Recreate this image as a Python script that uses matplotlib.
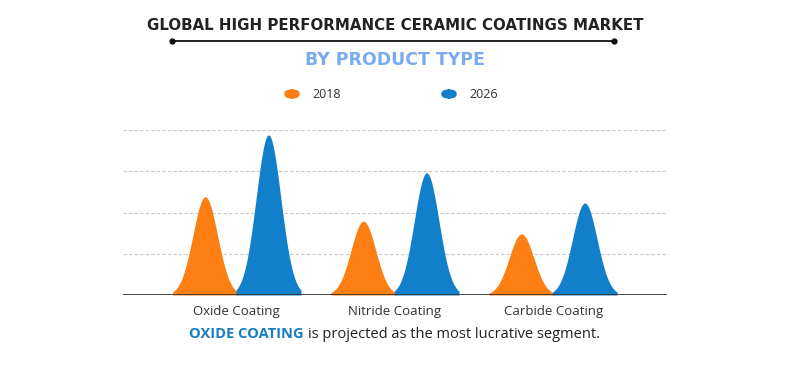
import numpy as np
import matplotlib
matplotlib.use("Agg")
import matplotlib.pyplot as plt
from matplotlib.patches import FancyBboxPatch
from matplotlib.lines import Line2D

plt.rcParams['font.family'] = ['Open Sans', 'DejaVu Sans']

# data
categories = ["Oxide Coating", "Nitride Coating", "Carbide Coating"]
years = ["2018", "2026"]
values_2018 = [2.38, 1.79, 1.48]
values_2026 = [3.88, 2.96, 2.23]

orange = "#FD7F14"
blue = "#127FCB"


def peak(ax, x0, h, color):
    """Draw a bell shaped peak centred at x0 with height h."""
    xs = np.linspace(-0.205, 0.205, 200)
    ys = h * np.exp(-0.5 * (xs / 0.078) ** 2)
    ax.fill_between(x0 + xs, 0, ys, color=color, linewidth=0, zorder=3)


fig = plt.figure(figsize=(7.9, 3.67), dpi=100)
ax = fig.add_axes([123 / 790, 1 - 295 / 367, 544 / 790, 165 / 367])

pos = np.arange(len(categories))
for i, x in enumerate(pos):
    peak(ax, x - 0.2, values_2018[i], orange)
    peak(ax, x + 0.2, values_2026[i], blue)

ax.set_xlim(-0.72, 2.72)
ax.set_ylim(0, 4)
for g in [1, 2, 3, 4]:
    ax.axhline(g, color="#c8c8c8", linestyle=(0, (3, 2)), linewidth=0.8, zorder=1)
ax.axhline(0, color="#333333", linewidth=2, zorder=4)

ax.set_xticks(pos)
ax.set_xticklabels(categories, fontsize=9.5, color="#333333")
ax.tick_params(axis="x", length=0, pad=7)
ax.set_yticks([])
for s in ax.spines.values():
    s.set_visible(False)

# titles
fig.text(0.5, 1 - 25 / 367, "GLOBAL HIGH PERFORMANCE CERAMIC COATINGS MARKET",
         ha="center", va="center", fontsize=10.8, fontweight="bold", color="#222222",
         family="DejaVu Sans")
fig.add_artist(Line2D([172 / 790, 614 / 790], [1 - 41 / 367] * 2, color="#111111",
                      linewidth=1.3, marker="o", markersize=3.5, markevery=[0, 1]))
fig.text(0.5, 1 - 60 / 367, "BY PRODUCT TYPE", ha="center", va="center",
         fontsize=12.5, fontweight="bold", color="#7AAAF0", family="DejaVu Sans")

# legend
for x, label, color in [(292, years[0], orange), (449, years[1], blue)]:
    fig.patches.append(FancyBboxPatch(((x - 7) / 790, 1 - 98 / 367), 14 / 790, 8 / 367,
                                      boxstyle="round,pad=0,rounding_size=0.01",
                                      transform=fig.transFigure, color=color))
    fig.text((x + 20) / 790, 1 - 94 / 367, label, ha="left", va="center",
             fontsize=9, color="#333333")

# footer
fig.text(304 / 790, 1 - 334 / 367, "OXIDE COATING", ha="right", va="center",
         fontsize=10.5, fontweight="bold", color="#1A7CC1")
fig.text(308 / 790, 1 - 334 / 367, "is projected as the most lucrative segment.",
         ha="left", va="center", fontsize=10.5, color="#222222")

fig.savefig("out.png", dpi=100)
